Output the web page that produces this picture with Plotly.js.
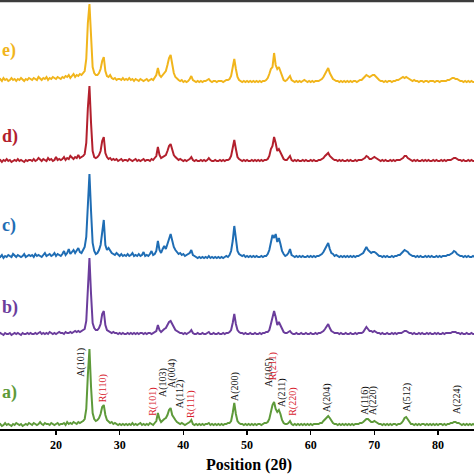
<!DOCTYPE html>
<html>
<head>
<meta charset="utf-8">
<script src="https://cdn.plot.ly/plotly-3.0.1.min.js"></script>
<style>html,body{margin:0;padding:0;background:#fff;}#chart{width:474px;height:474px;}</style>
</head>
<body>
<div id="chart"></div>
<script>
// 2-theta scan positions (degrees)
const twoTheta = [
11,11.25,11.5,11.75,12,12.25,12.5,12.75,13,13.25,13.5,13.75,14,14.25,14.5,14.75,15,15.25,15.5,15.75,
16,16.25,16.5,16.75,17,17.25,17.5,17.75,18,18.25,18.5,18.75,19,19.25,19.5,19.75,20,20.25,20.5,20.75,
21,21.25,21.5,21.75,22,22.25,22.5,22.75,23,23.25,23.5,23.75,24,24.25,24.5,24.75,25,25.25,25.5,25.75,
26,26.25,26.5,26.75,27,27.25,27.5,27.75,28,28.25,28.5,28.75,29,29.25,29.5,29.75,30,30.25,30.5,30.75,
31,31.25,31.5,31.75,32,32.25,32.5,32.75,33,33.25,33.5,33.75,34,34.25,34.5,34.75,35,35.25,35.5,35.75,
36,36.25,36.5,36.75,37,37.25,37.5,37.75,38,38.25,38.5,38.75,39,39.25,39.5,39.75,40,40.25,40.5,40.75,
41,41.25,41.5,41.75,42,42.25,42.5,42.75,43,43.25,43.5,43.75,44,44.25,44.5,44.75,45,45.25,45.5,45.75,
46,46.25,46.5,46.75,47,47.25,47.5,47.75,48,48.25,48.5,48.75,49,49.25,49.5,49.75,50,50.25,50.5,50.75,
51,51.25,51.5,51.75,52,52.25,52.5,52.75,53,53.25,53.5,53.75,54,54.25,54.5,54.75,55,55.25,55.5,55.75,
56,56.25,56.5,56.75,57,57.25,57.5,57.75,58,58.25,58.5,58.75,59,59.25,59.5,59.75,60,60.25,60.5,60.75,
61,61.25,61.5,61.75,62,62.25,62.5,62.75,63,63.25,63.5,63.75,64,64.25,64.5,64.75,65,65.25,65.5,65.75,
66,66.25,66.5,66.75,67,67.25,67.5,67.75,68,68.25,68.5,68.75,69,69.25,69.5,69.75,70,70.25,70.5,70.75,
71,71.25,71.5,71.75,72,72.25,72.5,72.75,73,73.25,73.5,73.75,74,74.25,74.5,74.75,75,75.25,75.5,75.75,
76,76.25,76.5,76.75,77,77.25,77.5,77.75,78,78.25,78.5,78.75,79,79.25,79.5,79.75,80,80.25,80.5,80.75,
81,81.25,81.5,81.75,82,82.25,82.5,82.75,83,83.25,83.5,83.75,84,84.25,84.5,84.75,85,85.25,85.5,85.75
];

// intensities (a.u., above each pattern's own baseline)
const intensityA = [
2,3,1,2,4,2,3,2,1,3,2,4,3,2,3,1,2,3,2,4,
3,2,4,3,2,3,5,3,2,4,3,3,2,4,3,2,3,4,2,3,
3,4,2,5,3,4,3,5,4,3,5,4,5,6,8,18,52,78,40,14,
8,6,7,9,13,20,22,12,7,5,4,5,3,4,3,2,3,2,3,2,
3,2,3,2,4,2,3,2,3,4,2,3,2,3,2,4,3,2,4,6,
14,8,5,7,8,9,12,17,19,12,9,7,5,4,3,4,3,2,3,4,
5,7,3,2,3,2,3,2,3,2,3,3,4,2,3,2,3,2,3,2,
3,2,3,3,4,4,6,14,24,13,6,4,3,3,2,3,2,3,2,3,
2,3,2,3,3,2,3,4,4,5,8,16,22,25,18,15,17,13,7,4,
3,3,4,6,3,2,3,2,3,2,3,2,3,2,3,2,3,2,3,3,
3,3,4,4,6,8,10,11,9,6,4,3,3,2,3,2,3,2,3,2,
3,2,3,2,3,3,3,4,4,5,7,8,8,6,5,5,6,5,4,3,
3,2,3,2,3,2,3,2,3,3,2,3,3,4,6,9,10,8,5,3,
3,2,3,2,3,2,3,3,2,3,2,3,2,3,2,3,2,3,3,2,
3,2,3,3,4,4,5,5,4,4,3,2,3,2,3,2,3,2,3,2
];
const intensityB = [
2,3,2,1,3,2,2,3,1,2,3,2,3,2,1,3,2,2,3,2,
3,2,2,3,2,3,4,2,3,2,3,2,4,3,2,3,2,3,4,3,
3,2,4,3,3,4,3,4,5,4,5,4,5,6,7,15,50,78,42,13,
8,6,6,8,12,22,25,11,6,5,4,3,4,3,3,2,3,2,3,2,
2,3,2,3,2,3,2,3,2,3,3,2,3,2,3,3,2,3,4,5,
11,6,4,6,7,8,11,14,15,11,9,6,5,4,3,3,2,3,2,3,
4,6,3,2,2,3,2,2,3,2,2,3,4,2,2,3,2,2,3,2,
2,3,2,3,3,4,6,13,22,12,6,4,3,3,2,3,2,2,3,2,
2,3,2,2,3,2,3,3,4,4,6,12,18,25,19,11,14,10,6,4,
3,3,4,5,3,2,2,3,2,2,3,2,2,3,2,2,3,2,2,3,
2,3,3,4,5,7,10,12,8,5,4,3,3,3,2,3,2,2,3,2,
2,3,2,2,3,2,3,3,3,4,6,9,7,5,5,4,5,4,3,3,
2,3,2,2,3,2,2,3,2,3,2,3,3,3,4,5,5,4,3,3,
2,3,2,2,3,2,3,2,2,3,2,3,2,2,3,2,3,2,2,3,
2,3,3,3,3,4,4,4,3,3,2,3,2,2,3,2,2,3,2,2
];
const intensityC = [
3,2,4,1,3,2,4,3,2,5,3,2,4,3,2,3,5,2,3,4,
3,4,2,5,3,4,3,2,4,6,3,4,5,3,4,6,3,5,4,3,
5,8,4,6,10,5,7,9,6,8,11,7,6,9,12,22,58,85,48,16,
8,5,6,9,14,30,39,14,9,11,8,6,5,4,6,4,3,5,3,4,
3,5,3,4,6,3,4,3,5,3,4,7,3,4,3,5,8,4,5,8,
18,9,6,10,13,10,14,20,25,17,12,9,7,5,6,4,5,3,4,5,
6,9,4,3,2,1,2,1,2,1,2,1,3,1,2,1,2,1,2,1,
2,1,2,3,2,4,8,18,33,17,8,5,4,3,4,2,3,2,3,2,
3,2,3,2,2,3,2,3,3,5,9,18,24,21,25,17,21,15,8,5,
3,4,6,10,4,3,2,3,2,3,2,3,2,2,3,2,3,2,3,2,
3,3,4,5,7,10,13,16,10,6,5,3,4,3,2,3,2,3,2,3,
2,3,2,3,2,3,3,4,5,6,9,12,9,7,6,7,7,6,4,3,
3,2,3,2,3,2,2,3,2,3,3,4,4,6,8,9,8,7,5,4,
3,3,2,3,2,3,2,2,3,2,3,2,3,2,2,3,2,3,2,3,
3,3,4,4,5,6,8,7,5,4,3,3,2,3,2,3,2,2,3,2
];
const intensityD = [
2,3,1,3,2,4,2,3,1,2,3,2,4,2,3,2,1,3,2,3,
3,2,4,2,3,5,3,2,4,3,2,5,3,4,2,3,6,3,4,3,
4,6,3,5,4,7,5,4,6,5,8,5,6,7,9,20,55,77,40,12,
6,5,6,8,12,22,26,10,6,4,5,3,4,3,4,2,3,4,2,3,
3,2,4,3,2,3,4,2,3,2,3,4,2,3,3,2,4,3,5,7,
16,8,5,6,7,8,12,17,19,12,8,6,4,3,4,3,2,3,2,3,
4,6,3,2,3,2,2,3,2,3,2,3,5,3,2,2,3,2,2,3,
2,3,2,3,3,4,7,15,23,14,6,4,3,2,3,2,3,2,2,3,
2,3,2,3,2,3,2,3,3,4,7,14,17,26,20,12,14,10,6,4,
3,3,5,7,3,2,3,2,3,2,2,3,2,3,2,2,3,2,3,2,
2,3,3,4,5,7,9,10,7,5,4,3,3,2,3,2,3,2,2,3,
2,3,2,2,3,2,3,3,3,4,5,7,6,4,4,5,6,5,4,3,
2,3,2,3,2,2,3,2,3,2,3,3,3,4,5,7,7,5,4,3,
2,3,2,3,2,2,3,2,3,2,3,2,2,3,2,3,2,2,3,2,
3,2,3,3,3,4,5,5,4,3,3,2,3,2,2,3,2,3,2,2
];
const intensityE = [
3,4,2,5,3,4,2,3,5,3,4,2,4,3,5,3,2,4,3,5,
4,3,5,4,3,6,4,3,5,4,6,3,5,4,6,5,4,6,5,4,
6,5,7,6,8,5,7,9,6,8,7,9,8,10,12,24,60,79,45,16,
10,8,8,10,14,22,26,12,7,6,8,5,4,5,3,4,4,3,5,3,
4,3,5,3,4,2,4,3,2,4,3,2,3,4,2,3,4,3,5,8,
15,8,6,8,10,12,18,25,28,18,10,6,4,3,2,3,1,2,1,2,
4,7,3,2,1,2,1,2,1,2,2,3,4,2,1,2,2,1,2,2,
2,1,2,3,3,4,7,15,24,14,6,3,2,1,2,1,2,1,2,1,
2,1,2,1,2,1,2,2,3,5,9,14,16,30,18,14,16,11,6,3,
2,3,5,7,3,2,1,2,1,2,1,2,3,2,1,2,1,2,1,2,
2,2,3,4,6,9,12,15,10,6,4,3,2,2,1,2,1,2,1,2,
1,2,1,2,2,1,2,3,3,5,6,8,7,6,7,8,8,6,4,3,
2,2,1,2,1,2,2,1,2,2,3,3,4,5,6,5,6,5,4,3,
2,3,2,2,1,2,2,1,2,2,1,2,2,2,1,2,2,1,2,2,
2,2,3,3,4,5,5,4,4,3,2,2,1,2,1,2,1,2,1,1
];

const seriesNames = ['a)', 'b)', 'c)', 'd)', 'e)'];
const seriesData = [intensityA, intensityB, intensityC, intensityD, intensityE];

// reflection labels for pattern (a)
const peakLabels = ['A(101)','R(110)','R(101)','A(103)','A(004)','A(112)','R(111)','A(200)','A(105)','R(211)','A(211)','R(220)','A(204)','A(116)','A(220)','A(512)','A(224)'];
const peakPos    = [23.9, 27.4, 35.2, 36.8, 38.2, 39.5, 41.2, 48.1, 53.45, 54.1, 55.5, 57.2, 62.6, 68.5, 69.8, 75.1, 82.98];
const peakLevel  = [67, 41, 27, 47, 56, 35, 25, 43, 57, 63, 36, 27, 31, 29, 28, 32, 29];

// styling / layout (not data)
const stackOffset = [2, 93, 170, 266, 346];
const colors = ['#5e9a3a', '#6b3d9c', '#1f6db4', '#b3202d', '#f1b51c'];
const labelLevel = [37, 122, 204, 293, 379];
const serif = 'Liberation Serif, Times New Roman, serif';

const traces = seriesData.map((s, k) => ({
  type: 'scatter', mode: 'lines',
  x: twoTheta,
  y: s.map(v => v + stackOffset[k]),
  line: {color: colors[k], width: 2},
  name: seriesNames[k], showlegend: false, hoverinfo: 'skip'
}));

const annotations = [];
seriesNames.forEach((n, k) => {
  annotations.push({
    xref: 'paper', yref: 'y', x: 0.001, y: labelLevel[k],
    xanchor: 'left', yanchor: 'middle', showarrow: false,
    text: '<b>' + n + '</b>',
    font: {family: serif, size: 18, color: colors[k]}
  });
});
peakLabels.forEach((t, i) => {
  annotations.push({
    xref: 'x', yref: 'y', x: peakPos[i], y: peakLevel[i],
    xanchor: 'center', yanchor: 'middle', showarrow: false,
    textangle: -90, text: t,
    font: {family: serif, size: 10, color: t[0] === 'R' ? '#d8232f' : '#111111'}
  });
});
annotations.push({
  xref: 'x', yref: 'paper', x: 50.3, y: -0.085,
  xanchor: 'center', yanchor: 'middle', showarrow: false,
  text: '<b>Position (2θ)</b>',
  font: {family: serif, size: 16, color: '#000'}
});

const layout = {
  width: 474, height: 474,
  margin: {l: 0, r: 0, t: 2, b: 45},
  paper_bgcolor: '#fff', plot_bgcolor: '#fff',
  xaxis: {
    range: [11.2, 85.65], tickvals: [20, 30, 40, 50, 60, 70, 80],
    ticks: 'outside', ticklen: 4, tickwidth: 1.2, tickcolor: '#000',
    showline: true, linecolor: '#000', linewidth: 1.5,
    showgrid: false, zeroline: false,
    tickfont: {family: serif, size: 12, color: '#000', weight: 'bold'}
  },
  yaxis: {range: [0, 427], visible: false, showgrid: false, zeroline: false},
  shapes: [{type: 'line', xref: 'paper', yref: 'paper', x0: 0, x1: 1, y0: 1.0025, y1: 1.0025,
            line: {color: '#3c3c3c', width: 2.5}}],
  annotations: annotations
};

Plotly.newPlot('chart', traces, layout, {staticPlot: true, displayModeBar: false});
</script>
</body>
</html>
